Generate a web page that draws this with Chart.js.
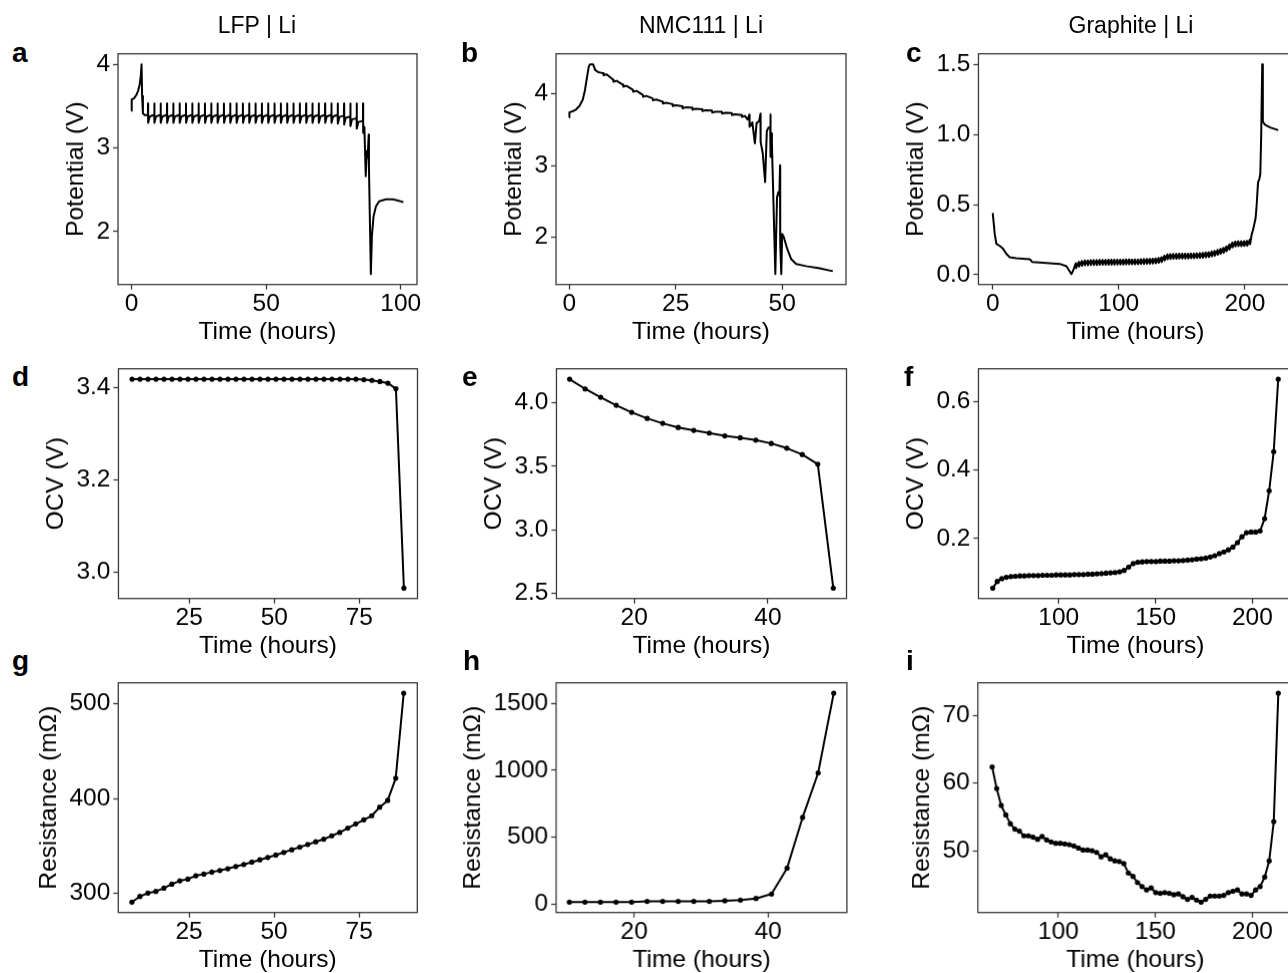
<!DOCTYPE html>
<html><head><meta charset="utf-8">
<script src="https://cdn.jsdelivr.net/npm/chart.js@4.4.1/dist/chart.umd.min.js"></script>
<style>
html,body{margin:0;padding:0;background:#fff;}
body{width:1288px;height:973px;overflow:hidden;position:relative;font-family:"Liberation Sans",Arial,sans-serif;}
.box{position:absolute;}
.box canvas{display:block;}
.lbl{position:absolute;color:#000;white-space:nowrap;line-height:1;}
.coltitle{font-size:23px;}
.letter{font-size:28px;font-weight:bold;}
</style></head><body>
<script>
// ---------------- DATA ----------------
// Top row: potential vs time
const aTime = [0,0.03,0.8,1.7,2.4,3.0,3.4,3.7,3.9,4.2,5.0,6.05,
6.10,6.15,6.70,8.40, 8.45,8.50,9.05,10.75, 10.80,10.85,11.40,13.10, 13.15,13.20,13.75,15.45,
15.50,15.55,16.10,17.80, 17.85,17.90,18.45,20.15, 20.20,20.25,20.80,22.50, 22.55,22.60,23.15,24.85,
24.90,24.95,25.50,27.20, 27.25,27.30,27.85,29.55, 29.60,29.65,30.20,31.90, 31.95,32.00,32.55,34.25,
34.30,34.35,34.90,36.60, 36.65,36.70,37.25,38.95, 39.00,39.05,39.60,41.30, 41.35,41.40,41.95,43.65,
43.70,43.75,44.30,46.00, 46.05,46.10,46.65,48.35, 48.40,48.45,49.00,50.70, 50.75,50.80,51.35,53.05,
53.10,53.15,53.70,55.40, 55.45,55.50,56.05,57.75, 57.80,57.85,58.40,60.10, 60.15,60.20,60.75,62.45,
62.50,62.55,63.10,64.80, 64.85,64.90,65.45,67.15, 67.20,67.25,67.80,69.50, 69.55,69.60,70.15,71.85,
71.90,71.95,72.50,74.20, 74.25,74.30,74.85,76.55, 76.60,76.65,77.20,78.90, 78.95,79.00,79.55,81.25,
81.30,81.35,81.90,83.60, 83.65,83.70,84.25,85.95, 86.00,86.05,86.50,
87.0,87.4,87.7,88.1,88.2,88.9,89.3,89.9,90.8,92.0,94.5,97.0,99.0,101.0];
const aPot = [3.44,3.58,3.59,3.63,3.68,3.76,3.86,4.00,3.62,3.41,3.39,3.395,
3.53,3.30,3.375,3.395, 3.53,3.30,3.375,3.395, 3.53,3.30,3.375,3.395, 3.53,3.30,3.375,3.395,
3.53,3.30,3.375,3.395, 3.53,3.30,3.375,3.395, 3.53,3.30,3.375,3.395, 3.53,3.30,3.375,3.395,
3.53,3.30,3.375,3.395, 3.53,3.30,3.375,3.395, 3.53,3.30,3.375,3.395, 3.53,3.30,3.375,3.395,
3.53,3.30,3.375,3.395, 3.53,3.30,3.375,3.395, 3.53,3.30,3.375,3.395, 3.53,3.30,3.375,3.395,
3.53,3.30,3.375,3.395, 3.53,3.30,3.375,3.395, 3.53,3.30,3.375,3.395, 3.53,3.30,3.375,3.395,
3.53,3.30,3.375,3.395, 3.53,3.30,3.375,3.395, 3.53,3.30,3.375,3.395, 3.53,3.30,3.375,3.395,
3.53,3.30,3.375,3.395, 3.53,3.30,3.375,3.395, 3.53,3.30,3.375,3.395, 3.53,3.30,3.375,3.395,
3.53,3.30,3.375,3.395, 3.53,3.30,3.375,3.395, 3.53,3.29,3.37,3.385, 3.53,3.28,3.36,3.375,
3.53,3.26,3.34,3.355, 3.53,3.23,3.31,3.32, 3.53,3.18,3.25,
2.66,2.96,2.88,3.16,2.75,1.49,1.95,2.18,2.30,2.36,2.385,2.385,2.37,2.35];

const bTime = [0,0.05,1.0,1.6,2.4,3.2,3.7,4.1,4.6,4.9,5.6,6.1,6.8,
8.0,8.08,8.8, 10.32,10.4,11.12, 12.64,12.72,13.44, 14.96,15.04,15.76, 17.28,17.36,18.08,
19.6,19.68,20.4, 21.92,22.0,22.72, 24.24,24.32,25.04, 26.56,26.64,27.36, 28.88,28.96,29.68,
31.2,31.28,32.0, 33.52,33.6,34.32, 35.84,35.92,36.64, 38.16,38.24,38.96, 40.48,40.56,41.28,
41.9,42.3,42.35,43.0,43.6,44.0,44.6,44.9,44.95,45.45,46.0,46.4,46.8,47.2,47.25,47.3,47.45,47.6,
48.4,48.8,49.1,49.35,49.5,49.55,49.8,50.0,50.3,51.2,52.1,53.3,55.6,58.8,61.9];
const bPot = [3.67,3.74,3.76,3.78,3.83,3.92,4.05,4.20,4.38,4.41,4.41,4.33,4.30,
4.285,4.258,4.27, 4.195,4.168,4.18, 4.125,4.098,4.11, 4.055,4.028,4.04, 3.985,3.958,3.97,
3.935,3.908,3.92, 3.89,3.863,3.875, 3.855,3.828,3.84, 3.825,3.798,3.81, 3.805,3.778,3.79,
3.785,3.758,3.77, 3.765,3.738,3.75, 3.75,3.723,3.735, 3.73,3.703,3.715, 3.705,3.678,3.69,
3.64,3.71,3.54,3.60,3.31,3.59,3.62,3.72,3.33,3.17,2.77,3.48,3.53,3.53,3.71,3.12,3.45,3.30,
1.49,2.56,2.63,2.58,3.00,1.91,1.49,2.05,2.02,1.84,1.70,1.63,1.60,1.57,1.53];

const cTime = [0,1.6,2.9,5.6,8.2,10.8,13.5,18.8,29.4,31.5,42.6,53.2,58.5,62.4,63.8,65.0,
66.0,66.15, 68.34,68.49, 70.68,70.83, 73.02,73.17, 75.36,75.51, 77.7,77.85, 80.04,80.19, 82.38,82.53,
84.72,84.87, 87.06,87.21, 89.4,89.55, 91.74,91.89, 94.08,94.23, 96.42,96.57, 98.76,98.91, 101.1,101.25,
103.44,103.59, 105.78,105.93, 108.12,108.27, 110.46,110.61, 112.8,112.95, 115.14,115.29, 117.48,117.63,
119.82,119.97, 122.16,122.31, 124.5,124.65, 126.84,126.99, 129.18,129.33, 131.52,131.67, 133.86,134.01,
136.2,136.35, 138.54,138.69, 140.88,141.03, 143.22,143.37, 145.56,145.71, 147.9,148.05, 150.24,150.39,
152.58,152.73, 154.92,155.07, 157.26,157.41, 159.6,159.75, 161.94,162.09, 164.28,164.43, 166.62,166.77,
168.96,169.11, 171.3,171.45, 173.64,173.79, 175.98,176.13, 178.32,178.47, 180.66,180.81, 183.0,183.15,
185.34,185.49, 187.68,187.83, 190.02,190.17, 192.36,192.51, 194.7,194.85, 197.04,197.19, 199.38,199.53,
201.72,201.87, 204.06,204.21,
205.5,206.5,207.5,208.5,209.2,210.5,211.5,212.3,213.0,213.8,214.3,216.0,220.0,226.5];
const cPot = [0.44,0.29,0.22,0.205,0.185,0.15,0.124,0.117,0.11,0.09,0.084,0.077,0.06,0.005,0.03,0.06,
0.082,0.048, 0.092,0.058, 0.098,0.064, 0.101,0.067, 0.102,0.068, 0.103,0.069, 0.104,0.070, 0.104,0.070,
0.105,0.071, 0.105,0.071, 0.105,0.071, 0.106,0.072, 0.106,0.072, 0.106,0.072, 0.107,0.073, 0.107,0.073,
0.107,0.073, 0.108,0.074, 0.108,0.074, 0.108,0.074, 0.109,0.075, 0.109,0.075, 0.110,0.076,
0.111,0.077, 0.112,0.078, 0.113,0.079, 0.114,0.080, 0.116,0.082, 0.119,0.085, 0.125,0.091,
0.136,0.102, 0.144,0.110, 0.147,0.113, 0.148,0.114, 0.148,0.114, 0.149,0.115, 0.149,0.115,
0.150,0.116, 0.150,0.116, 0.151,0.117, 0.152,0.118, 0.153,0.119, 0.154,0.120, 0.156,0.122,
0.158,0.124, 0.161,0.127, 0.165,0.131, 0.170,0.136, 0.176,0.142, 0.183,0.149, 0.191,0.157,
0.202,0.168, 0.215,0.181, 0.228,0.194, 0.236,0.202, 0.238,0.204, 0.238,0.204, 0.239,0.205,
0.241,0.207, 0.252,0.218,
0.29,0.32,0.36,0.40,0.47,0.66,0.68,0.72,1.0,1.5,1.09,1.07,1.05,1.03];

// Middle / bottom rows: OCV and resistance at each pulse
const lfpPulseTime = [8.2,10.55,12.9,15.25,17.6,19.95,22.3,24.65,27.0,29.35,31.7,34.05,36.4,38.75,41.1,
43.45,45.8,48.15,50.5,52.85,55.2,57.55,59.9,62.25,64.6,66.95,69.3,71.65,74.0,76.35,78.7,81.05,83.4,85.75,88.1];
const lfpOCV = [3.4175,3.4175,3.4175,3.4175,3.4175,3.4175,3.4175,3.4175,3.4175,3.4175,3.4175,3.4175,
3.4175,3.4175,3.4175,3.4175,3.4175,3.4175,3.4175,3.4175,3.4175,3.4175,3.4175,3.4175,3.4175,3.4175,
3.4175,3.4175,3.4175,3.4165,3.415,3.4125,3.409,3.397,2.966];
const lfpRes = [290.9,296.8,300.4,302.1,305.6,309.8,313.3,315.1,318.6,320.4,322.5,324.2,326.0,328.4,
330.5,333.0,335.4,337.9,340.4,343.2,346.0,348.8,351.6,354.4,357.2,360.7,364.2,368.8,373.3,377.5,381.8,
390.9,398.0,421.4,510.9];

const nmcPulseTime = [10.34,12.66,14.98,17.3,19.62,21.94,24.26,26.58,28.9,31.22,33.54,35.86,38.18,40.5,
42.82,45.14,47.46,49.78];
const nmcOCV = [4.184,4.108,4.042,3.979,3.924,3.876,3.837,3.805,3.782,3.761,3.739,3.724,3.705,3.679,
3.642,3.592,3.516,2.542];
const nmcRes = [15,15,15,15,15,20,20,20,20,20,25,30,42,75,269,647,980,1575];

const grPulseTime = [65.9,68.24,70.58,72.92,75.26,77.6,79.94,82.28,84.62,86.96,
89.3,91.64,93.98,96.32,98.66,101.0,103.34,105.68,108.02,110.36,
112.7,115.04,117.38,119.72,122.06,124.4,126.74,129.08,131.42,133.76,
136.1,138.44,140.78,143.12,145.46,147.8,150.14,152.48,154.82,157.16,
159.5,161.84,164.18,166.52,168.86,171.2,173.54,175.88,178.22,180.56,
182.9,185.24,187.58,189.92,192.26,194.6,196.94,199.28,201.62,203.96,
206.3,208.64,210.98,213.32];
const grOCV = [0.0556,0.075,0.083,0.087,0.089,0.090,0.091,0.091,0.092,0.092,
0.092,0.093,0.093,0.093,0.094,0.094,0.094,0.094,0.095,0.095,
0.095,0.096,0.096,0.097,0.098,0.099,0.100,0.101,0.103,0.107,
0.117,0.127,0.131,0.132,0.133,0.133,0.133,0.134,0.134,0.134,
0.135,0.135,0.136,0.137,0.138,0.140,0.141,0.143,0.146,0.150,
0.156,0.161,0.167,0.175,0.188,0.205,0.217,0.219,0.219,0.222,
0.258,0.339,0.453,0.664];
const grRes = [62.4,59.2,56.7,55.3,54.0,53.2,52.9,52.2,52.2,52.0,
51.7,52.1,51.6,51.3,51.1,51.1,51.0,50.9,50.7,50.4,
50.1,50.1,50.0,49.75,49.1,49.4,48.8,48.5,48.4,48.1,
46.7,46.2,45.3,44.7,44.2,44.5,43.8,43.7,43.8,43.7,
43.5,43.6,43.2,42.8,43.1,42.7,42.4,42.8,43.3,43.3,
43.3,43.4,43.8,44.0,44.2,43.6,43.6,43.4,44.2,44.7,
46.1,48.5,54.3,73.3];

// Tick labels
const aXTicks=[0,50,100], aYTicks=[2,3,4];
const bXTicks=[0,25,50], bYTicks=[2,3,4];
const cXTicks=[0,100,200], cYTicks=[0,0.5,1.0,1.5];
const dXTicks=[25,50,75], dYTicks=[3.0,3.2,3.4];
const eXTicks=[20,40], eYTicks=[2.5,3.0,3.5,4.0];
const fXTicks=[100,150,200], fYTicks=[0.2,0.4,0.6];
const gXTicks=[25,50,75], gYTicks=[300,400,500];
const hXTicks=[20,40], hYTicks=[0,500,1000,1500];
const iXTicks=[100,150,200], iYTicks=[50,60,70];

const colTitles = ['LFP | Li','NMC111 | Li','Graphite | Li'];
const xLabel = 'Time (hours)';

// ---------------- RENDER ----------------
const FONT = '"Liberation Sans", Arial, sans-serif';
Chart.defaults.font.family = FONT;
Chart.defaults.color = '#000';
const SPINE = '#3a3a3a';
const FS = 24.5;

const framePlugin = {
  id:'frame',
  afterDraw(chart){
    const a = chart.chartArea, ctx = chart.ctx;
    ctx.save(); ctx.strokeStyle = SPINE; ctx.lineWidth = 1.3;
    ctx.strokeRect(a.left, a.top, a.right-a.left, a.bottom-a.top);
    ctx.restore();
  }
};

function range(arr){ let lo=Math.min(...arr), hi=Math.max(...arr), m=(hi-lo)*0.05; return [lo-m, hi+m]; }

function axis(ticks, dec, lim, title, isX){
  return {
    type:'linear', min:lim[0], max:lim[1],
    afterBuildTicks: s => { s.ticks = ticks.map(v => ({value:v})); },
    ticks:{ font:{size:FS}, color:'#000', padding: isX ? 0 : 3, maxRotation:0, minRotation:0, autoSkip:false,
      callback: v => Number(v).toFixed(dec) },
    grid:{ display:true, drawOnChartArea:false, drawTicks:true, tickLength:5, tickColor:SPINE, tickWidth:1.3, color:SPINE },
    border:{ display:false },
    title:{ display:true, text:title, font:{size:FS}, color:'#000',
      padding: isX ? {top:-2,bottom:0} : {top:0,bottom:2} }
  };
}

function panel(p){
  const box = document.createElement('div'); box.className='box';
  box.style.left='0px'; box.style.top='0px'; box.style.width='520px'; box.style.height='420px';
  const cv = document.createElement('canvas'); box.appendChild(cv); document.body.appendChild(box);
  const chart = new Chart(cv, {
    type:'line',
    data:{ datasets:[{ data: p.x.map((t,i)=>({x:t, y:p.y[i]})), borderColor:'#000', borderWidth:2,
      backgroundColor:'#000', pointRadius:p.pts?2.6:0, pointBorderWidth:0, pointBackgroundColor:'#000',
      tension:0, fill:false, borderJoinStyle:'round' }] },
    options:{
      responsive:true, maintainAspectRatio:false, animation:false, devicePixelRatio:1,
      layout:{ padding:{ top:8, right:8, left:0, bottom:0 } },
      plugins:{ legend:{display:false}, tooltip:{enabled:false} },
      scales:{
        x: axis(p.xt, 0, range(p.x), xLabel, true),
        y: axis(p.yt, p.yd, range(p.y), p.yl, false)
      }
    },
    plugins:[framePlugin]
  });
  for (let k=0;k<3;k++){
    const ca = chart.chartArea, w = chart.width, h = chart.height;
    const nw = ca.left + (p.R-p.L) + (w-ca.right);
    const nh = ca.top + (p.B-p.T) + (h-ca.bottom);
    box.style.width = nw+'px'; box.style.height = nh+'px';
    box.style.left = (p.L-ca.left)+'px'; box.style.top = (p.T-ca.top)+'px';
    chart.resize();
  }
}

const P = [
  {x:aTime,y:aPot,xt:aXTicks,yt:aYTicks,yd:0,yl:'Potential (V)',pts:false,L:118,T:54,R:417,B:284},
  {x:bTime,y:bPot,xt:bXTicks,yt:bYTicks,yd:0,yl:'Potential (V)',pts:false,L:556,T:54,R:846,B:284},
  {x:cTime,y:cPot,xt:cXTicks,yt:cYTicks,yd:1,yl:'Potential (V)',pts:false,L:978,T:54,R:1292,B:284},
  {x:lfpPulseTime,y:lfpOCV,xt:dXTicks,yt:dYTicks,yd:1,yl:'OCV (V)',pts:true,L:118,T:369,R:417,B:598},
  {x:nmcPulseTime,y:nmcOCV,xt:eXTicks,yt:eYTicks,yd:1,yl:'OCV (V)',pts:true,L:556,T:369,R:846,B:598},
  {x:grPulseTime,y:grOCV,xt:fXTicks,yt:fYTicks,yd:1,yl:'OCV (V)',pts:true,L:978,T:369,R:1292,B:598},
  {x:lfpPulseTime,y:lfpRes,xt:gXTicks,yt:gYTicks,yd:0,yl:'Resistance (m\u03A9)',pts:true,L:118,T:683,R:417,B:912},
  {x:nmcPulseTime,y:nmcRes,xt:hXTicks,yt:hYTicks,yd:0,yl:'Resistance (m\u03A9)',pts:true,L:556,T:683,R:846,B:912},
  {x:grPulseTime,y:grRes,xt:iXTicks,yt:iYTicks,yd:0,yl:'Resistance (m\u03A9)',pts:true,L:978,T:683,R:1292,B:912}
];
P.forEach(panel);

// Text labels (column titles and panel letters)
function addText(txt, cls, x, baseline, fs, center){
  const d = document.createElement('div'); d.className='lbl '+cls; d.textContent = txt;
  d.style.top = (baseline - 0.8465*fs)+'px';
  d.style.left = x+'px';
  if (center) d.style.transform='translateX(-50%)';
  document.body.appendChild(d);
}
const titleX = [257, 701, 1131];
colTitles.forEach((t,i)=>addText(t,'coltitle',titleX[i],33,23,true));
const letters = ['a','b','c','d','e','f','g','h','i'];
const letterX = [12,461,906,12,462,904,12,463,906];
const letterB = [63,63,63,387,387,387,671,671,671];
letters.forEach((l,i)=>addText(l,'letter',letterX[i],letterB[i],28,false));
</script>
</body></html>
